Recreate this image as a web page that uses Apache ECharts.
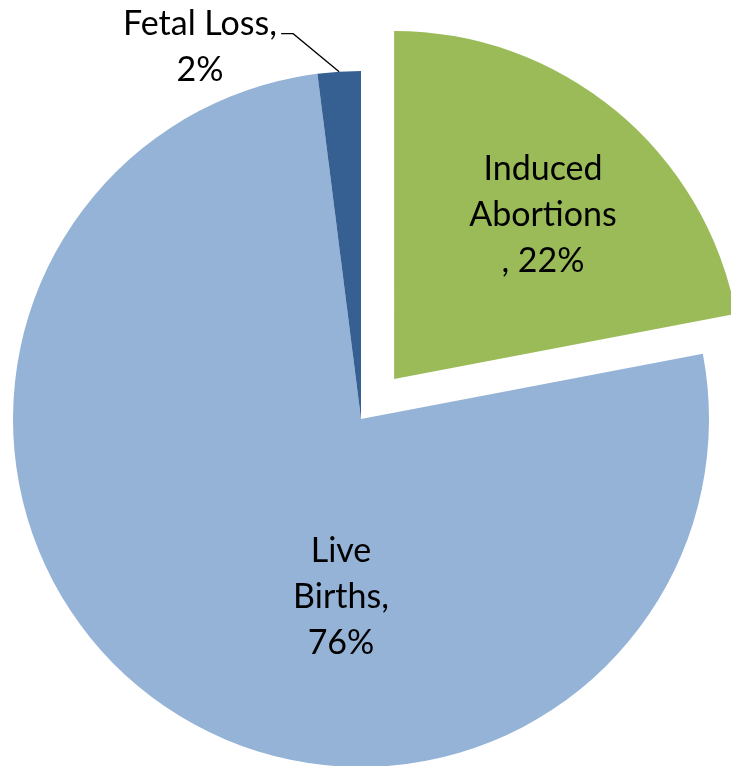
<!DOCTYPE html>
<html>
<head>
<meta charset="utf-8">
<script src="https://cdn.jsdelivr.net/npm/echarts@6/dist/echarts.min.js"></script>
<style>
  html, body { margin: 0; padding: 0; background: #ffffff; }
  #chart { width: 731px; height: 766px; }
</style>
</head>
<body>
<div id="chart"></div>
<script>
// Pregnancy outcomes, share of all pregnancies (%)
const categories = ['Induced Abortions', 'Live Births', 'Fetal Loss'];
const values = [22, 76, 2];
// How each category name is broken across lines in its label
const labelHeads = ['Induced\nAbortions\n, ', 'Live\nBirths,\n', 'Fetal Loss,\n'];
const colors = ['#9BBB59', '#95B3D7', '#366092'];

// Label anchors (centre of each text block)
const labelAnchors = [[543, 215], [341, 597], [200, 47]];

const pieCenter = [361, 419];
const pieRadius = 348;
const explodeDistance = 52;
const explodedIndex = 0;

// Direction of the exploded slice's bisector (start at 12 o'clock, clockwise)
const total = values.reduce((s, v) => s + v, 0);
const before = values.slice(0, explodedIndex).reduce((s, v) => s + v, 0);
const midFrac = (before + values[explodedIndex] / 2) / total;
const midAngle = midFrac * 2 * Math.PI;
const explodedCenter = [
  pieCenter[0] + explodeDistance * Math.sin(midAngle),
  pieCenter[1] - explodeDistance * Math.cos(midAngle)
];

const hidden = { color: 'rgba(0,0,0,0)' };

const chart = echarts.init(document.getElementById('chart'), null, { renderer: 'canvas' });

const labelBase = {
  show: true,
  position: 'inside',
  fontFamily: 'Lato',
  fontSize: 34,
  lineHeight: 46,
  color: '#000000',
  align: 'center',
  formatter: (p) => labelHeads[categories.indexOf(p.name)] + p.value + '%'
};

const placeLabel = (params, series) => {
  const idx = categories.indexOf(series[params.dataIndex].name);
  const a = labelAnchors[idx];
  const out = { x: a[0], y: a[1], align: 'center', verticalAlign: 'middle' };
  if (categories[idx] === 'Fetal Loss' && params.labelLinePoints) {
    const p0 = params.labelLinePoints[0];
    out.labelLinePoints = [
      [p0[0], p0[1]],
      [p0[0] - 46, p0[1] - 38],
      [p0[0] - 58, p0[1] - 38]
    ];
  }
  return out;
};

// Main pie: every slice except the exploded one (kept as an empty gap)
const mainData = categories.map((name, i) => {
  if (i === explodedIndex) {
    return { name: name, value: values[i], itemStyle: hidden, label: { show: false } };
  }
  const item = { name: name, value: values[i], itemStyle: { color: colors[i] } };
  if (name === 'Fetal Loss') {
    item.label = { position: 'outside' };
    item.labelLine = { show: true };
  }
  return item;
});

// Exploded slice drawn on its own, shifted along its bisector
const explodedData = categories.map((name, i) => {
  if (i === explodedIndex) {
    return { name: name, value: values[i], itemStyle: { color: colors[i] } };
  }
  return { name: name, value: values[i], itemStyle: hidden, label: { show: false } };
});

chart.setOption({
  animation: false,
  series: [{
    type: 'pie',
    center: pieCenter,
    radius: pieRadius,
    startAngle: 90,
    clockwise: true,
    silent: true,
    avoidLabelOverlap: false,
    itemStyle: { borderWidth: 0 },
    label: labelBase,
    labelLine: {
      show: false,
      lineStyle: { color: '#000000', width: 1.3 }
    },
    labelLayout: (params) => placeLabel(params, mainData),
    data: mainData
  }, {
    type: 'pie',
    center: explodedCenter,
    radius: pieRadius,
    startAngle: 90,
    clockwise: true,
    silent: true,
    avoidLabelOverlap: false,
    itemStyle: { borderWidth: 0 },
    label: labelBase,
    labelLine: { show: false },
    labelLayout: (params) => placeLabel(params, explodedData),
    data: explodedData
  }]
});
</script>
</body>
</html>
